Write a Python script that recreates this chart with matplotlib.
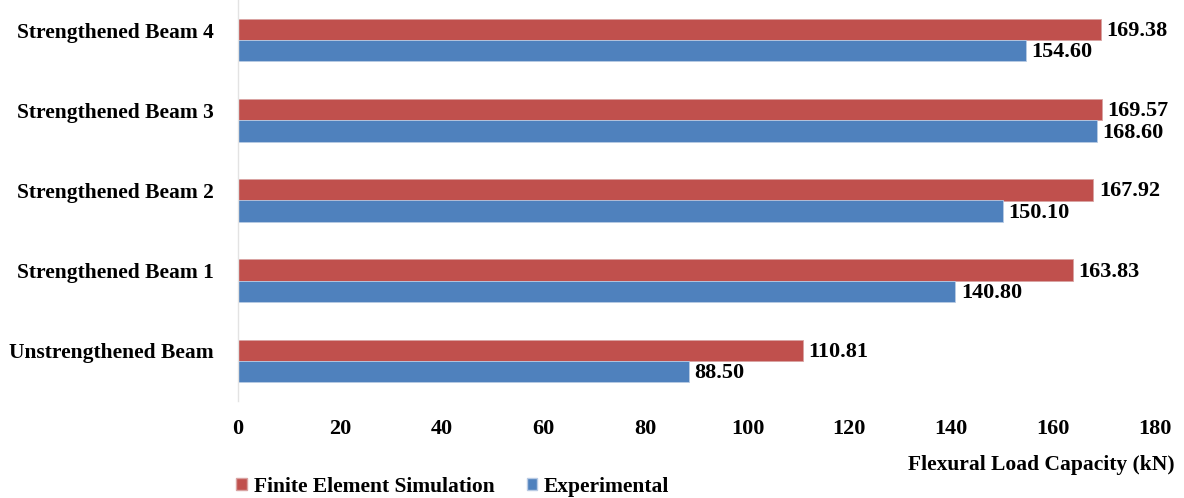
import numpy as np
import matplotlib
matplotlib.use("Agg")
import matplotlib.pyplot as plt
from matplotlib.patches import Patch
from matplotlib.transforms import ScaledTranslation

plt.rcParams['font.family'] = ['Liberation Serif', 'DejaVu Serif']
plt.rcParams['font.weight'] = 'bold'

beams = ["Unstrengthened Beam", "Strengthened Beam 1", "Strengthened Beam 2",
         "Strengthened Beam 3", "Strengthened Beam 4"]
fe_sim = [110.81, 163.83, 167.92, 169.57, 169.38]
experimental = [88.50, 140.80, 150.10, 168.60, 154.60]
xticks = [0, 20, 40, 60, 80, 100, 120, 140, 160, 180]

red = "#C0504D"
blue = "#4F81BD"

fig = plt.figure(figsize=(11.84, 4.98), dpi=100)
ax = fig.add_axes([238 / 1184, 1 - 401 / 498, (1155 - 238) / 1184, 401 / 498])

y = np.arange(len(beams))
h = 0.265
ax.barh(y + h / 2, fe_sim, height=h, color=red, edgecolor="#d9a3a2", linewidth=0.6)
ax.barh(y - h / 2, experimental, height=h, color=blue, edgecolor="#b9cbe4", linewidth=0.6)

for yi, v in zip(y, fe_sim):
    ax.text(v + 1.1, yi + h / 2 - 0.02, f"{v:.2f}", va="center", ha="left",
            fontsize=16, fontweight="bold")
for yi, v in zip(y, experimental):
    ax.text(v + 1.1, yi - h / 2 - 0.02, f"{v:.2f}", va="center", ha="left",
            fontsize=16, fontweight="bold")

ax.set_xlim(0, 180)
ax.set_ylim(-0.5, 4.5)
ax.set_yticks(y)
ax.set_yticklabels(beams, fontsize=15.5, fontweight="bold")
ax.set_xticks(xticks)
ax.set_xticklabels([str(t) for t in xticks], fontsize=16, fontweight="bold")
ax.tick_params(axis="both", length=0)
ax.tick_params(axis="x", pad=13)
ax.tick_params(axis="y", pad=17.5)

# category labels sit a little above the middle of each pair of bars
lift = ScaledTranslation(0, 10 / 100, fig.dpi_scale_trans)
for lab in ax.get_yticklabels():
    lab.set_transform(lab.get_transform() + lift)

for s in ["top", "right", "bottom"]:
    ax.spines[s].set_visible(False)
ax.spines["left"].set_color("#e3e3e3")
ax.spines["left"].set_linewidth(1.0)

fig.text(1175 / 1184, 1 - 465 / 498, "Flexural Load Capacity (kN)", ha="right", va="center",
         fontsize=15.5, fontweight="bold")

handles = [Patch(facecolor=red, edgecolor="#d9a3a2", label="Finite Element Simulation"),
           Patch(facecolor=blue, edgecolor="#b9cbe4", label="Experimental")]
fig.legend(handles=handles, loc="center left", bbox_to_anchor=(217 / 1184, 1 - 487 / 498),
           ncol=2, frameon=False, handlelength=0.5, handleheight=0.5, handletextpad=0.3,
           columnspacing=1.5, prop={"size": 15.5, "weight": "bold"})

fig.savefig("out.png", dpi=100)
